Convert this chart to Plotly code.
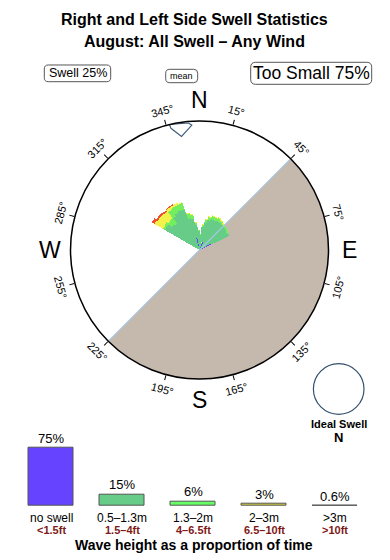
import plotly.graph_objects as go
import math

W, H = 390, 560
FONT = "Liberation Sans, Arial, Helvetica, sans-serif"

# ---------------- data ----------------
title_line1 = "Right and Left Side Swell Statistics"
title_line2 = "August: All Swell – Any Wind"
swell_label = "Swell 25%"
too_small_label = "Too Small 75%"

# rose: 5-degree direction bins (direction swell comes from), stacked layers
rose_dirs = [302.5, 307.5, 312.5, 317.5, 322.5, 327.5, 332.5, 337.5, 342.5, 347.5,
             352.5, 357.5, 2.5, 7.5, 12.5, 17.5, 22.5, 27.5, 32.5, 37.5, 42.5, 47.5,
             52.5, 57.5, 62.5]
rose_blue = [0, 0, 0, 0, 0, 0, 0, 0, 0, 12, 0, 0, 0, 0, 0, 0, 10, 0, 0, 0, 0, 0, 0, 0, 13]
rose_green = [40, 40, 36, 35, 41, 43, 44, 43, 33, 20, 25, 19, 15, 23, 28, 31, 23, 33,
              34, 34, 33, 33, 33, 32, 20]
rose_lime = [2, 3, 5, 7, 8, 7, 6, 7, 5, 4, 2, 1, 1, 2, 3, 3, 3, 3, 3, 2, 2, 2, 2, 2, 0]
rose_yellow = [10, 8, 10, 8, 3, 2, 2, 1, 1, 1, 1, 0, 0, 1, 1, 1, 1, 1, 1, 1, 1, 0, 0, 0, 0]
rose_red = [3, 2, 2, 2, 1, 1, 0, 0, 0, 0, 0, 0, 0, 0, 0, 0, 0, 0, 0, 0, 0, 0, 0, 0, 0]
R_MAX = 129

land_center = 135      # shaded land half
land_width = 180
mean_dir = 351

tick_angles = [15, 45, 75, 105, 135, 165, 195, 225, 255, 285, 315, 345]
cardinal_names = ["N", "E", "S", "W"]
cardinal_angles = [0, 90, 180, 270]

bar_labels = ["no swell", "0.5–1.3m", "1.3–2m", "2–3m", ">3m"]
bar_ft = ["<1.5ft", "1.5–4ft", "4–6.5ft", "6.5–10ft", ">10ft"]
bar_values = [75, 15, 6, 3, 0.6]
bar_text = ["75%", "15%", "6%", "3%", "0.6%"]
bar_colors = ["#6644FF", "#66CC88", "#66FF66", "#D4D43A", "#C89A9A"]

# ---------------- layout helpers ----------------
CX, CY, RAD = 199.5, 250.0, 129.0


def px(x):
    return x / W


def py(y):
    return 1 - y / H


def rrect(x0, y0, x1, y1, r):
    def P(x, y):
        return f"{px(x):.5f},{py(y):.5f}"
    return (f"M{P(x0 + r, y0)} L{P(x1 - r, y0)} Q{P(x1, y0)} {P(x1, y0 + r)} "
            f"L{P(x1, y1 - r)} Q{P(x1, y1)} {P(x1 - r, y1)} L{P(x0 + r, y1)} "
            f"Q{P(x0, y1)} {P(x0, y1 - r)} L{P(x0, y0 + r)} Q{P(x0, y0)} {P(x0 + r, y0)} Z")


def ann(text, x, y, size, color="black", xref="paper", yref="paper", **kw):
    d = dict(text=text, x=x, y=y, xref=xref, yref=yref, showarrow=False,
             xanchor="center", yanchor="middle",
             font=dict(size=size, color=color, family=FONT))
    d.update(kw)
    return d


fig = go.Figure()

# land half-disc
fig.add_trace(go.Barpolar(r=[R_MAX], theta=[land_center], width=[land_width],
                          marker=dict(color="#C5B9AD", line=dict(width=0)),
                          showlegend=False, hoverinfo="skip"))
# land boundary line
fig.add_trace(go.Scatterpolar(r=[R_MAX, 0, R_MAX],
                              theta=[land_center - land_width / 2, land_center - land_width / 2,
                                     land_center + land_width / 2],
                              mode="lines", line=dict(color="#A9C6E2", width=1.2),
                              showlegend=False, hoverinfo="skip"))

rose_layers = [(rose_blue, "#6644FF"), (rose_green, "#66CC88"), (rose_lime, "#72EE5E"),
               (rose_yellow, "#F2F24A"), (rose_red, "#EE5030")]
for vals, col in rose_layers:
    fig.add_trace(go.Barpolar(r=vals, theta=rose_dirs, width=[5] * len(rose_dirs),
                              marker=dict(color=col, line=dict(width=0)),
                              showlegend=False, hoverinfo="skip"))

# mean direction marker
d = mean_dir
fig.add_trace(go.Scatterpolar(
    r=[R_MAX, R_MAX - 4, R_MAX - 14, R_MAX - 4, R_MAX - 1.5, R_MAX],
    theta=[d - 4.5, d - 4.2, d, d + 5.5, d + 4, d - 4.5],
    mode="lines", fill="toself", fillcolor="white",
    line=dict(color="#3B5B7B", width=1.1), showlegend=False, hoverinfo="skip"))

# bottom bar chart
fig.add_trace(go.Bar(x=list(range(len(bar_values))), y=bar_values, width=0.64,
                     marker=dict(color=bar_colors, line=dict(color="#555555", width=1)),
                     showlegend=False, hoverinfo="skip", xaxis="x", yaxis="y"))

annotations = []
shapes = []

# titles
annotations.append(ann(f"<b>{title_line1}</b>", px(194), py(20), 16))
annotations.append(ann(f"<b>{title_line2}</b>", px(194), py(42), 16))

# boxes
shapes.append(dict(type="path", path=rrect(44.3, 65, 110.7, 81.7, 4), xref="paper", yref="paper",
                   line=dict(color="#555555", width=1)))
shapes.append(dict(type="path", path=rrect(165.7, 69.3, 197.7, 82.7, 4), xref="paper", yref="paper",
                   line=dict(color="#555555", width=1)))
shapes.append(dict(type="path", path=rrect(250.7, 62.3, 371.7, 84.3, 5), xref="paper", yref="paper",
                   line=dict(color="#555555", width=1)))
annotations.append(ann(swell_label, px(77.5), py(73.4), 12.5))
annotations.append(ann("mean", px(181.7), py(76.0), 9))
annotations.append(ann(too_small_label, px(311.2), py(73.4), 17.5))

# degree labels around the circle
for b in tick_angles:
    rr = RAD + 15
    x = CX + rr * math.sin(math.radians(b))
    y = CY - rr * math.cos(math.radians(b))
    if b < 90:
        ta = b
    elif b < 270:
        ta = b - 180
    else:
        ta = b - 360
    annotations.append(ann(f"{b}°", px(x), py(y), 11, textangle=ta))

for name, b in zip(cardinal_names, cardinal_angles):
    rr = RAD + 21
    x = CX + rr * math.sin(math.radians(b))
    y = CY - rr * math.cos(math.radians(b))
    annotations.append(ann(name, px(x), py(y), 23))

# ideal swell
shapes.append(dict(type="circle", xref="paper", yref="paper",
                   x0=px(338.7 - 25.3), x1=px(338.7 + 25.3), y0=py(389 + 25.3), y1=py(389 - 25.3),
                   line=dict(color="#34506E", width=1.2)))
annotations.append(ann("<b>Ideal Swell</b>", px(338.5), py(424), 11))
annotations.append(ann("<b>N</b>", px(338.5), py(437.5), 13))

# bar labels
for i, (lab, ft, txt, v) in enumerate(zip(bar_labels, bar_ft, bar_text, bar_values)):
    annotations.append(ann(txt, i, v, 13, xref="x", yref="y", yanchor="bottom"))
    annotations.append(ann(lab, i, py(518), 12, xref="x"))
    annotations.append(ann(f"<b>{ft}</b>", i, py(529.5), 11, color="#801818", xref="x"))
annotations.append(ann("<b>Wave height as a proportion of time</b>", px(194), py(545), 14))

fig.update_layout(
    width=W, height=H, margin=dict(l=0, r=0, t=0, b=0),
    paper_bgcolor="white", plot_bgcolor="white",
    font=dict(family=FONT, color="black"),
    polar=dict(
        domain=dict(x=[px(CX - RAD), px(CX + RAD)], y=[py(CY + RAD), py(CY - RAD)]),
        bgcolor="white", barmode="stack", bargap=0,
        radialaxis=dict(range=[0, R_MAX], visible=False),
        angularaxis=dict(direction="clockwise", rotation=90, showgrid=False,
                         showline=True, linecolor="black", linewidth=1.5,
                         tickmode="array", tickvals=tick_angles, ticks="outside",
                         ticklen=5, tickcolor="black", tickwidth=1,
                         showticklabels=False),
    ),
    xaxis=dict(domain=[px(15.5), px(370.5)], range=[-0.5, 4.5], visible=False, fixedrange=True),
    yaxis=dict(domain=[py(506), py(506 - 77.3)], range=[0, 100], visible=False, fixedrange=True),
    annotations=annotations, shapes=shapes, bargap=0,
)

fig.write_html("out.html")
